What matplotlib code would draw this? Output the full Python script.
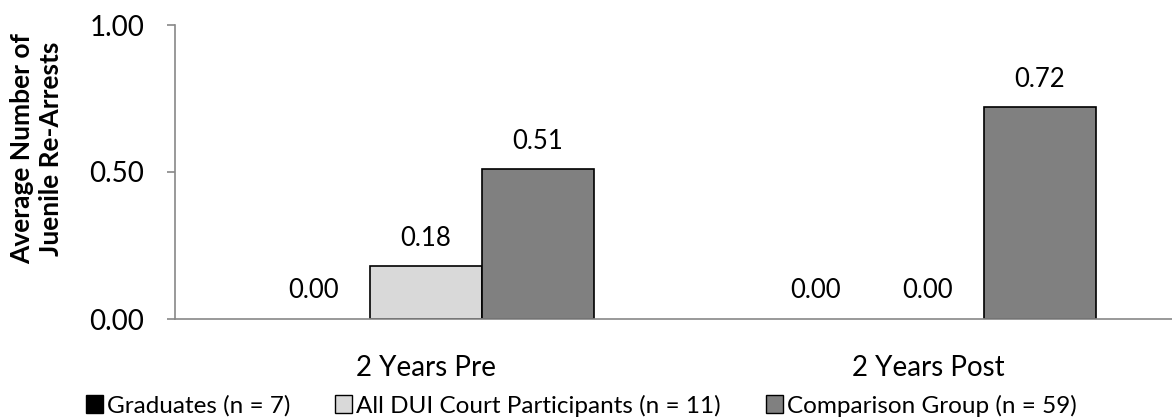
import numpy as np
import matplotlib.pyplot as plt

plt.rcParams['font.family'] = ['Lato', 'DejaVu Sans']

categories = ['2 Years Pre', '2 Years Post']
series = ['Graduates (n = 7)', 'All DUI Court Participants (n = 11)', 'Comparison Group (n = 59)']
graduates = [0.00, 0.00]
all_dui = [0.18, 0.00]
comparison = [0.51, 0.72]
colors = ['#000000', '#d9d9d9', '#808080']

fig = plt.figure(figsize=(11.72, 4.18), dpi=100)
# axes runs a bit past the right edge, like the original crop
ax = fig.add_axes([175 / 1172, 99 / 418, 1004 / 1172, 294 / 418])

x = np.arange(len(categories))
w = 0.223
for i, (vals, name) in enumerate(zip([graduates, all_dui, comparison], series)):
    pos = x + (i - 1) * w
    bars = ax.bar(pos, vals, w, color=colors[i], edgecolor='black', linewidth=1.2, label=name)
    for b, p, v in zip(bars, pos, vals):
        if v == 0:
            b.set_linewidth(0)  # zero bars show nothing in the original
        ax.annotate(f'{v:.2f}', (p, v), xytext=(0, 28), textcoords='offset pixels',
                    ha='center', va='center', fontsize=18.5)

ax.set_xlim(-0.5, 1.5)
ax.set_ylim(0, 1.0)
ax.set_yticks([0, 0.5, 1.0])
ax.set_yticklabels(['0.00', '0.50', '1.00'], fontsize=20)
ax.set_xticks(x)
ax.set_xticklabels(categories, fontsize=20)
ax.tick_params(axis='x', length=0, pad=26)
ax.tick_params(axis='y', length=6, color='#888888', width=1.2, pad=16)
for s in ['top', 'right']:
    ax.spines[s].set_visible(False)
for s in ['left', 'bottom']:
    ax.spines[s].set_color('#888888')
    ax.spines[s].set_linewidth(1.2)

ax.set_ylabel('Average Number of\nJuenile Re-Arrests', fontsize=19, fontweight='bold',
              linespacing=1.2)
ax.yaxis.set_label_coords(-0.112, 0.58)

leg = fig.legend(loc='center', bbox_to_anchor=(0.496, 0.030), ncol=3, frameon=False, fontsize=17.5,
                 handlelength=0.7, handleheight=0.7, handletextpad=0.17, columnspacing=1.85)
for h in leg.legend_handles:
    h.set_edgecolor('black')
    h.set_linewidth(1.0)

fig.savefig('out.png', dpi=100)
